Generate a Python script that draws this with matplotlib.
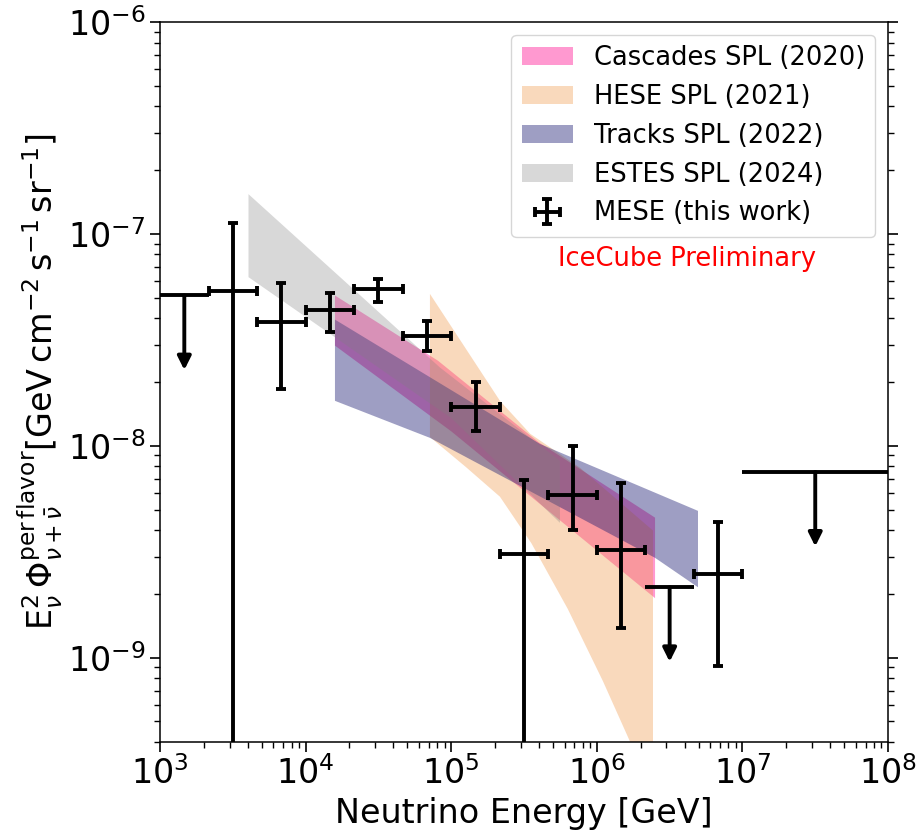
import numpy as np
import matplotlib
matplotlib.use("Agg")
import matplotlib.pyplot as plt

# MESE unfolded flux (this work), 1/3-decade bins + last bin 10 PeV - 100 PeV
bin_lo = np.array([1e3, 2.154e3, 4.642e3, 1e4, 2.154e4, 4.642e4, 1e5, 2.154e5, 4.642e5, 1e6, 2.154e6, 4.642e6, 1e7])
bin_hi = np.array([2.154e3, 4.642e3, 1e4, 2.154e4, 4.642e4, 1e5, 2.154e5, 4.642e5, 1e6, 2.154e6, 4.642e6, 1e7, 1e8])
bin_c = np.array([1.468e3, 3.162e3, 6.813e3, 1.468e4, 3.162e4, 6.813e4, 1.468e5, 3.162e5, 6.813e5, 1.468e6, 3.162e6, 6.813e6, 3.162e7])
flux = np.array([5.12e-8, 5.4e-8, 3.83e-8, 4.35e-8, 5.47e-8, 3.31e-8, 1.53e-8, 3.10e-9, 5.85e-9, 3.21e-9, 2.15e-9, 2.47e-9, 7.53e-9])
flux_up = np.array([np.nan, 1.12e-7, 5.85e-8, 5.27e-8, 6.14e-8, 3.86e-8, 2.01e-8, 6.89e-9, 1.0e-8, 6.7e-9, np.nan, 4.38e-9, np.nan])
flux_dn = np.array([np.nan, 1e-13, 1.85e-8, 3.46e-8, 4.76e-8, 2.81e-8, 1.18e-8, 1e-13, 3.99e-9, 1.38e-9, np.nan, 9.18e-10, np.nan])
is_ul = np.isnan(flux_up)

# single power law bands (upper / lower edges)
casc_E_up = [1.59e4, 8.11e4, 3.98e5, 2.51e6]
casc_F_up = [5.12e-8, 2.52e-8, 1.04e-8, 4.58e-9]
casc_E_lo = [1.59e4, 1.0e5, 2.51e6]
casc_F_lo = [2.97e-8, 1.17e-8, 1.91e-9]

hese_E_up = [7.14e4, 2.16e5, 3.48e5, 7.67e5, 2.43e6]
hese_F_up = [5.21e-8, 1.63e-8, 1.14e-8, 7.87e-9, 3.98e-9]
hese_E_lo = [7.14e4, 1.26e5, 2.16e5, 3.55e5, 6.31e5, 1.10e6, 1.70e6, 2.43e6]
hese_F_lo = [1.10e-8, 7.94e-9, 5.75e-9, 3.47e-9, 1.70e-9, 7.76e-10, 3.98e-10, 2.29e-10]

trk_E_up = [1.59e4, 4.07e5, 4.95e6]
trk_F_up = [3.94e-8, 1.02e-8, 4.93e-9]
trk_E_lo = [1.59e4, 7.14e4, 2.51e6, 4.95e6]
trk_F_lo = [1.63e-8, 1.09e-8, 2.96e-9, 2.15e-9]

estes_E_up = [4.05e3, 8.37e4, 5.58e5]
estes_F_up = [1.54e-7, 2.34e-8, 8.5e-9]
estes_E_lo = [4.05e3, 1.0e5, 5.58e5]
estes_F_lo = [6.25e-8, 1.35e-8, 4.33e-9]

fig = plt.figure(figsize=(9.24, 8.39), dpi=100)
ax = fig.add_axes([0.1732, 0.1156, 0.7879, 0.8582])
ax.set_xscale("log")
ax.set_yscale("log")


def band(E_up, F_up, E_lo, F_lo, **kw):
    xs = list(E_up) + list(E_lo)[::-1]
    ys = list(F_up) + list(F_lo)[::-1]
    return ax.fill(xs, ys, lw=0, **kw)[0]


h1 = band(casc_E_up, casc_F_up, casc_E_lo, casc_F_lo, color="deeppink", alpha=0.43, label="Cascades SPL (2020)")
h2 = band(hese_E_up, hese_F_up, hese_E_lo, hese_F_lo, color="#f09646", alpha=0.36, label="HESE SPL (2021)")
h3 = band(trk_E_up, trk_F_up, trk_E_lo, trk_F_lo, color="midnightblue", alpha=0.42, label="Tracks SPL (2022)")
h4 = band(estes_E_up, estes_F_up, estes_E_lo, estes_F_lo, color="gray", alpha=0.3, label="ESTES SPL (2024)")

m = ~is_ul
h5 = ax.errorbar(bin_c[m], flux[m],
                 xerr=[bin_c[m] - bin_lo[m], bin_hi[m] - bin_c[m]],
                 yerr=[flux[m] - flux_dn[m], flux_up[m] - flux[m]],
                 fmt="none", ecolor="k", elinewidth=2.8, capsize=3.5, capthick=2.8,
                 label="MESE (this work)")

# upper limits
ax.errorbar(bin_c[is_ul], flux[is_ul],
            xerr=[bin_c[is_ul] - bin_lo[is_ul], bin_hi[is_ul] - bin_c[is_ul]],
            fmt="none", ecolor="k", elinewidth=2.8, capsize=0)
for e, f in zip(bin_c[is_ul], flux[is_ul]):
    ax.annotate("", xy=(e, f * 0.445), xytext=(e, f),
                arrowprops=dict(arrowstyle="-|>", color="k", lw=2.8,
                                mutation_scale=20, shrinkA=0, shrinkB=0))

ax.set_xlim(1e3, 1e8)
ax.set_ylim(4e-10, 1e-6)

ax.set_xlabel("Neutrino Energy [GeV]", fontsize=24)
ax.set_ylabel(r"$\mathrm{E}_{\nu}^{2}\,\Phi_{\nu+\bar{\nu}}^{\mathrm{per\,flavor}}[\mathrm{GeV\,cm^{-2}\,s^{-1}\,sr^{-1}}]$",
              fontsize=24, labelpad=2)
ax.tick_params(which="both", direction="out", right=True, top=False, labelsize=24)
ax.tick_params(which="major", length=7, width=1.2)
ax.tick_params(which="minor", length=4, width=1)
for s in ax.spines.values():
    s.set_linewidth(1.1)

ax.legend(handles=[h1, h2, h3, h4, h5], loc="upper right", fontsize=18.5)
ax.text(0.724, 0.671, "IceCube Preliminary", color="red", fontsize=18.5,
        ha="center", va="center", transform=ax.transAxes)

fig.savefig("out.png", dpi=100)
